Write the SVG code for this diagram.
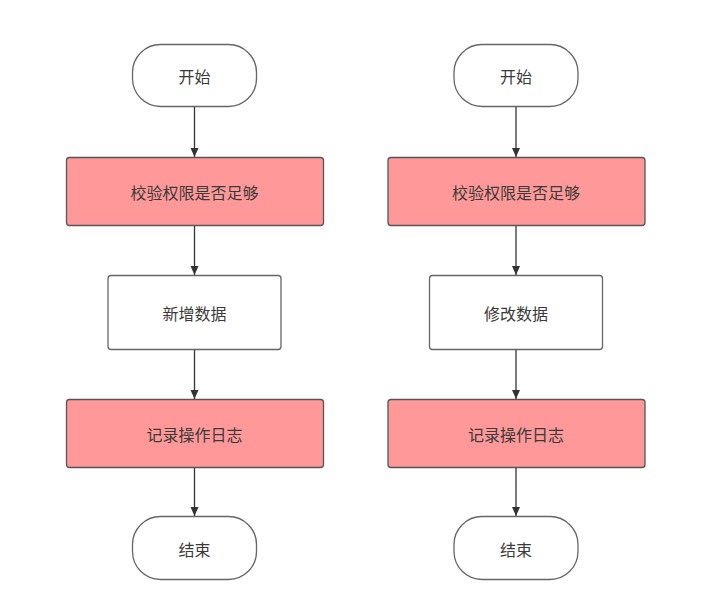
<svg xmlns="http://www.w3.org/2000/svg" width="711" height="606" viewBox="0 0 711 606">
<style>
.term{fill:#ffffff;stroke:#666666;stroke-width:1.3}
.proc{fill:#ffffff;stroke:#666666;stroke-width:1.3}
.red{fill:#ff9999;stroke:#555555;stroke-width:1.3}
.t{font-family:"Noto Sans CJK SC","Noto Sans",sans-serif;font-size:16px;fill:#3a3a3a;text-anchor:middle;dominant-baseline:central}
.c{stroke:#333333;stroke-width:1.3;fill:none;marker-end:url(#ah)}
</style>
<defs>
<marker id="ah" markerWidth="10" markerHeight="10" refX="9" refY="5" orient="auto" markerUnits="userSpaceOnUse">
<path d="M0,1 L9,5 L0,9 Z" fill="#333333"/>
</marker>
</defs>
<rect width="711" height="606" fill="#ffffff"/>
<g id="connectors">
<line class="c" x1="194.5" y1="107" x2="194.5" y2="157"/>
<line class="c" x1="194.5" y1="226" x2="194.5" y2="275"/>
<line class="c" x1="194.5" y1="350" x2="194.5" y2="399"/>
<line class="c" x1="194.5" y1="468" x2="194.5" y2="516"/>
<line class="c" x1="516" y1="107" x2="516" y2="157"/>
<line class="c" x1="516" y1="226" x2="516" y2="275"/>
<line class="c" x1="516" y1="350" x2="516" y2="399"/>
<line class="c" x1="516" y1="468" x2="516" y2="516"/>
</g>
<g id="start1"><rect class="term" x="132.5" y="44.5" width="124" height="62" rx="28" ry="28"/><text class="t" x="194.5" y="76">开始</text></g>
<g id="check1"><rect class="red" x="66.5" y="157.5" width="257" height="68" rx="3"/><text class="t" x="194.5" y="192">校验权限是否足够</text></g>
<g id="add1"><rect class="proc" x="108" y="275.5" width="173" height="74" rx="3"/><text class="t" x="194.5" y="313">新增数据</text></g>
<g id="log1"><rect class="red" x="66.5" y="399.5" width="257" height="68" rx="3"/><text class="t" x="194.5" y="434">记录操作日志</text></g>
<g id="end1"><rect class="term" x="132.5" y="516.5" width="124" height="63" rx="28" ry="28"/><text class="t" x="194.5" y="549">结束</text></g>
<g id="start2"><rect class="term" x="454" y="44.5" width="124" height="62" rx="28" ry="28"/><text class="t" x="516" y="76">开始</text></g>
<g id="check2"><rect class="red" x="388" y="157.5" width="257" height="68" rx="3"/><text class="t" x="516" y="192">校验权限是否足够</text></g>
<g id="modify2"><rect class="proc" x="429.5" y="275.5" width="173" height="74" rx="3"/><text class="t" x="516" y="313">修改数据</text></g>
<g id="log2"><rect class="red" x="388" y="399.5" width="257" height="68" rx="3"/><text class="t" x="516" y="434">记录操作日志</text></g>
<g id="end2"><rect class="term" x="454" y="516.5" width="124" height="63" rx="28" ry="28"/><text class="t" x="516" y="549">结束</text></g>
</svg>
